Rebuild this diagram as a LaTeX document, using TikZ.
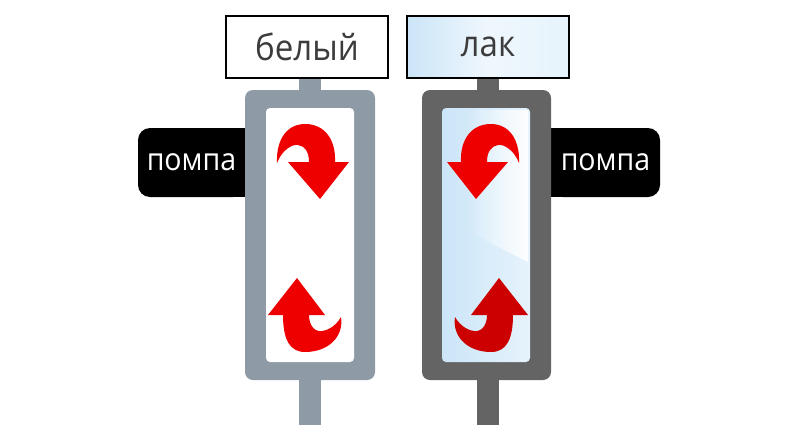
\documentclass[tikz,border=0pt]{standalone}
\usepackage{fontspec}
\setmainfont{Open Sans}[FakeStretch=0.92]
\usetikzlibrary{positioning, backgrounds, fadings}
\definecolor{whiteframe}{HTML}{8E9AA5}
\definecolor{lacframe}{HTML}{646464}
\definecolor{tagtext}{HTML}{3C3C3C}
\definecolor{arrowred}{HTML}{EE0000}
\definecolor{darkred}{HTML}{CC0000}
\definecolor{lacblue}{HTML}{CBE5F8}
\definecolor{lacpale}{HTML}{E6F3FC}

\begin{document}
\begin{tikzpicture}
    [
        x=1pt, y=-1pt,
        tag/.style={draw=black, line width=2.5pt, minimum width=162pt,
                    minimum height=62pt, inner sep=0pt, text=tagtext,
                    font=\fontsize{36}{36}\selectfont},
        pump/.style={fill=black, rounded corners=12pt, minimum height=69pt,
                     inner sep=0pt, text=white, font=\fontsize{31}{31}\selectfont},
        casing/.style={rounded corners=8pt, minimum width=130pt,
                       minimum height=290pt, inner sep=0pt},
        window/.style={rounded corners=4pt, minimum width=88pt,
                       minimum height=254pt, inner sep=0pt},
        stem/.style={line width=22pt},
        turndown/.pic={
            \fill[#1] (-22,-73) -- (10,-36) -- (39,-73) -- (25,-73)
                .. controls (26,-95) and (15,-111) .. (-5,-111)
                .. controls (-22,-111) and (-34,-97) .. (-33,-72)
                .. controls (-28,-85) and (-18,-91) .. (-12,-90)
                .. controls (-5,-89) and (-1,-83) .. (-1,-73) -- cycle;
        },
        turnup/.pic={
            \fill[#1] (-42,80) -- (-13,43) -- (15,80) -- (-1,80)
                .. controls (-1,91) and (5,97) .. (12,96)
                .. controls (20,95) and (27,89) .. (31,82)
                .. controls (34,102) and (18,117) .. (-5,117)
                .. controls (-20,117) and (-27,105) .. (-27,80) -- cycle;
        }
    ]
    \useasboundingbox (0,0) rectangle (800,442);

    % white line
    \node (pumpL) [pump, minimum width=107pt] at (191.5,162.5) {помпа};
    \node (casingL) [casing, fill=whiteframe] at (310,235) {};
    \node (windowL) [window, fill=white] at (310,235) {};
    \node (tagL) [tag, fill=white] at (307,47) {белый};
    \coordinate (baseL) at (310,425);
    \pic at (windowL.center) {turndown=arrowred};
    \pic at (windowL.center) {turnup=arrowred};

    % lacquer line
    \node (pumpR) [pump, minimum width=109pt] at (605.5,162.5) {помпа};
    \node (casingR) [casing, fill=lacframe, minimum width=129pt] at (486.5,235) {};
    \node (windowR) [window, left color=lacblue, right color=lacpale] at (486,235) {};
    \fill[white, path fading=west, fill opacity=0.9]
        (468,110) -- (528,110) -- (528,262) -- (488,242) -- (468,230) -- cycle;
    \node (tagR) [tag, left color=lacblue, right color=lacpale, middle color=white!70!lacblue] at (488,47) {лак};
    \coordinate (baseR) at (488,425);
    \pic[xscale=-1] at (windowR.center) {turndown=arrowred};
    \pic[xscale=-1] at (windowR.center) {turnup=darkred};

    \begin{scope}[on background layer]
        \fill (pumpL.north) rectangle (pumpL.south east);
        \fill (pumpR.north) rectangle (pumpR.south west);
        \draw[stem, whiteframe] (casingL.north -| baseL) -- (tagL.south -| baseL);
        \draw[stem, whiteframe] (casingL.south -| baseL) -- (baseL);
        \draw[stem, lacframe] (casingR.north -| baseR) -- (tagR.south -| baseR);
        \draw[stem, lacframe] (casingR.south -| baseR) -- (baseR);
    \end{scope}
\end{tikzpicture}
\end{document}
